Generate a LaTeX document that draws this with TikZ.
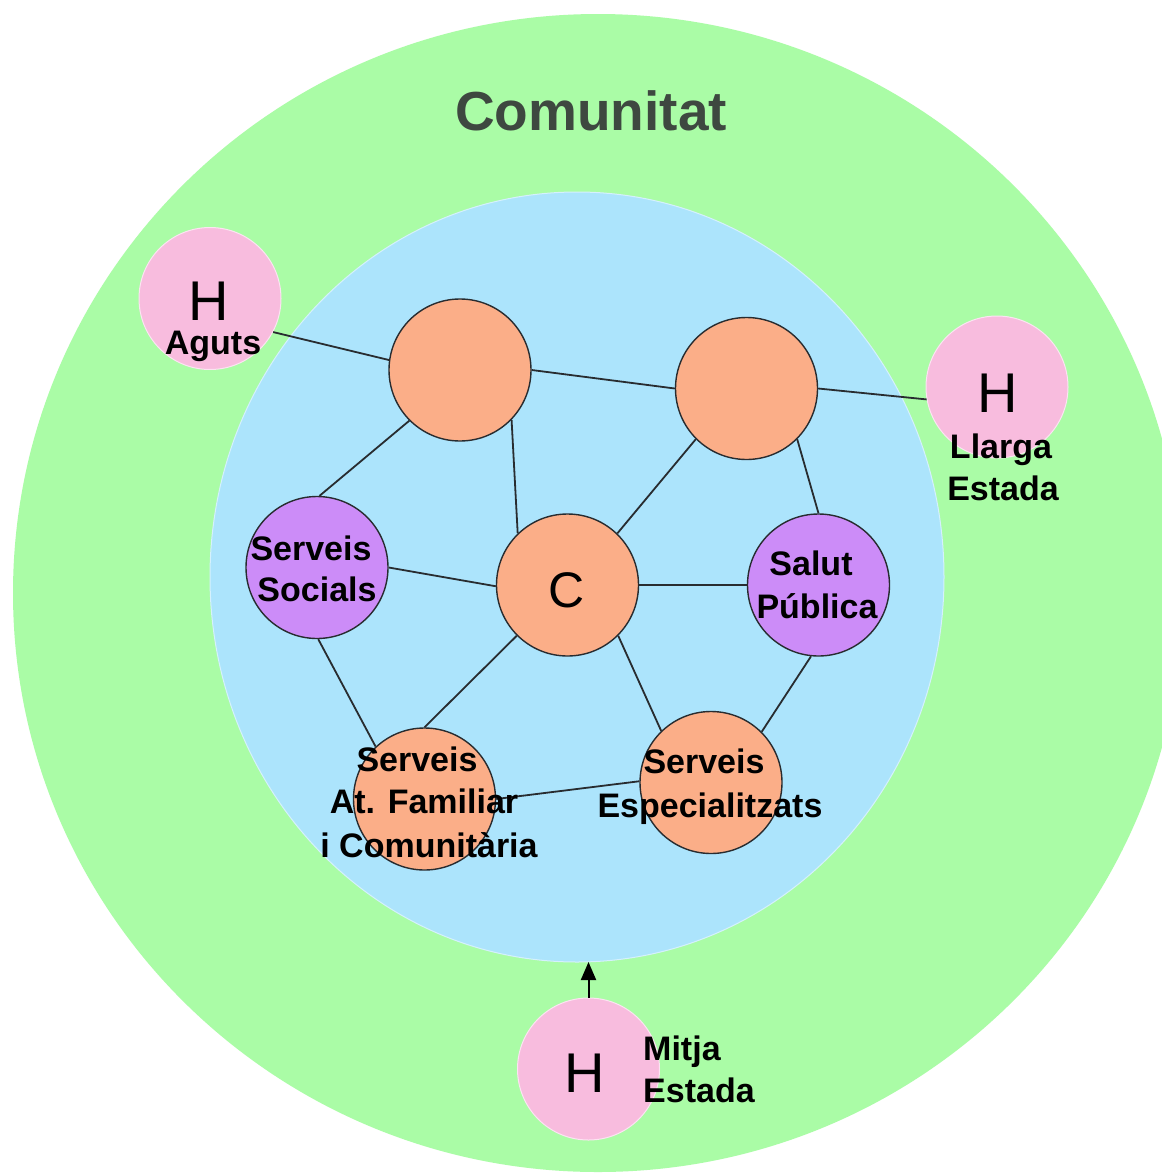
\documentclass[tikz,border=0pt]{standalone}
\usepackage{fontspec}
\setmainfont{Liberation Sans}
\usetikzlibrary{arrows.meta}
\definecolor{grn}{RGB}{170,252,166}
\definecolor{blu}{RGB}{172,228,252}
\definecolor{org}{RGB}{251,174,136}
\definecolor{pur}{RGB}{204,140,248}
\definecolor{pnk}{RGB}{248,188,222}
\definecolor{titl}{RGB}{62,72,64}
\definecolor{lin}{RGB}{40,44,48}
\begin{document}
\begin{tikzpicture}[x=1pt,y=-1pt,
  svc/.style={circle,draw=lin,line width=1.4pt,minimum size=142pt,inner sep=0pt},
  hosp/.style={circle,fill=pnk,draw=white!60!pnk,line width=1pt,minimum size=142pt,inner sep=0pt},
  conn/.style={draw=lin,line width=1.8pt},
  lbl/.style={font=\fontsize{34}{40}\selectfont\bfseries,inner sep=0pt,anchor=base},
  big/.style={font=\fontsize{56}{62}\selectfont,inner sep=0pt,anchor=base}]
\fill[white] (0,0) rectangle (1162,1173);
\useasboundingbox (0,0) rectangle (1162,1173);
% background areas
\fill[grn] (598,593) ellipse [x radius=585pt, y radius=579pt];
\fill[blu] (577,577) ellipse [x radius=367pt, y radius=385pt];
\draw[white!50!blu,line width=1pt] (577,577) ellipse [x radius=367pt, y radius=385pt];
\node[font=\fontsize{55}{60}\selectfont\bfseries,text=titl,inner sep=0pt,anchor=base] (com) at (591,130) {Comunitat};
% circles
\node[svc,fill=org] (o1) at (460,370) {};
\node[svc,fill=org] (o2) at (746.5,388.5) {};
\node[svc,fill=org] (c) at (567.5,585) {};
\node[svc,fill=pur] (ss) at (317,567.5) {};
\node[svc,fill=pur] (sp) at (818.5,585) {};
\node[svc,fill=org] (safc) at (424.5,799) {};
\node[svc,fill=org] (se) at (711,782.5) {};
\node[hosp] (hag) at (210,298.5) {};
\node[hosp] (hll) at (997,387) {};
\node[hosp] (hmi) at (588.5,1069) {};
\coordinate (arrtip) at (588.5,962);
% connectors
\draw[conn] (hag.-28) -- (o1.172);
\draw[conn] (o1.0) -- (o2.180);
\draw[conn] (o2.0) -- (hll.190);
\draw[conn] (o1.225.5) -- (ss.88);
\draw[conn] (o1.-44) -- (c.134);
\draw[conn] (o2.225) -- (c.46);
\draw[conn] (o2.-45) -- (sp.90);
\draw[conn] (ss.0) -- (c.181);
\draw[conn] (c.0) -- (sp.180);
\draw[conn] (ss.-89) -- (safc.133);
\draw[conn] (c.225) -- (safc.90);
\draw[conn] (c.-45) -- (se.134);
\draw[conn] (sp.264) -- (se.45);
\draw[conn] (safc.0) -- (se.179);
\draw[draw=black,line width=2pt,-{Triangle[width=15pt,length=18pt]}] (hmi.90) -- (arrtip);
% texts
\node[big] (hagH) at (208.5,320) {H};
\node[big] (hllH) at (997.5,412) {H};
\node[big] (hmiH) at (585,1092) {H};
\node[font=\fontsize{50}{56}\selectfont,inner sep=0pt,anchor=base] (cC) at (567,607) {C};
\node[lbl] (hagT) at (213,354) {Aguts};
\node[lbl] (hllT1) at (1001,458) {Llarga};
\node[lbl] (hllT2) at (1003,500) {Estada};
\node[lbl,anchor=base west] (hmiT1) at (643,1060) {Mitja};
\node[lbl,anchor=base west] (hmiT2) at (643,1102) {Estada};
\node[lbl] (ssT1) at (311,560) {Serveis};
\node[lbl] (ssT2) at (317,601) {Socials};
\node[lbl] (spT1) at (811,575) {Salut};
\node[lbl] (spT2) at (817,618) {Pública};
\node[lbl] (safcT1) at (417,771) {Serveis};
\node[lbl] (safcT2) at (424,813) {At. Familiar};
\node[lbl] (safcT3) at (429,857) {i Comunitària};
\node[lbl] (seT1) at (704,773) {Serveis};
\node[lbl] (seT2) at (710,817) {Especialitzats};
\end{tikzpicture}
\end{document}
